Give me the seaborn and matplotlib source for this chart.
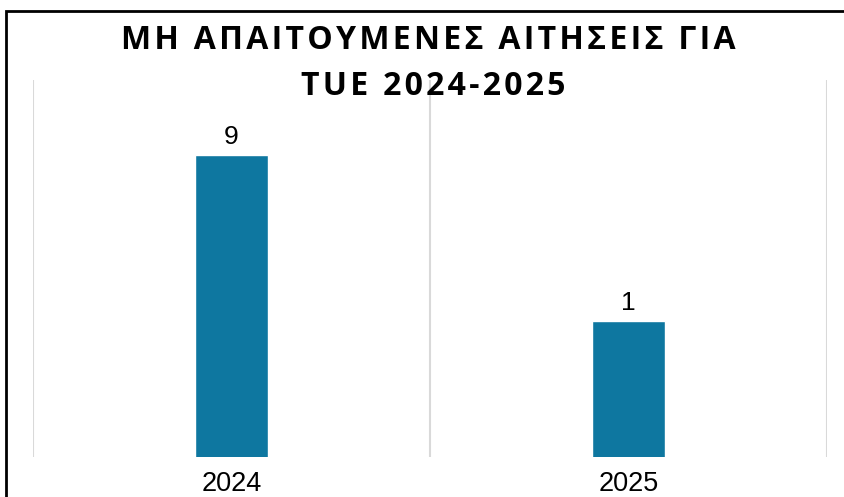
import matplotlib
matplotlib.use("Agg")
import matplotlib.pyplot as plt
import seaborn as sns
import pandas as pd
from matplotlib.patches import Rectangle

years = ["2024", "2025"]
counts = [9, 1]
title_lines = ["ΜΗ ΑΠΑΙΤΟΥΜΕΝΕΣ ΑΙΤΗΣΕΙΣ ΓΙΑ", "TUE 2024-2025"]

BAR_COLOR = "#0E77A0"
GRID_COLOR = "#D9D9D9"
W, H = 844, 497

sns.set_theme(style="white")
plt.rcParams["font.family"] = ["Liberation Sans", "DejaVu Sans"]
plt.rcParams["text.color"] = "black"
plt.rcParams["xtick.color"] = "black"


def spaced(s):
    # fake letter spacing with hair spaces
    return "\u200a".join(s)


df = pd.DataFrame({"year": years, "count": counts})

fig = plt.figure(figsize=(W / 100, H / 100), dpi=100)
ax = fig.add_axes([33 / W, 40 / H, 794 / W, 377 / H])

sns.barplot(data=df, x="year", y="count", color=BAR_COLOR, width=0.184,
            saturation=1, ax=ax)
ax.set_yscale("log")
ax.set_ylim(0.1652, 24.3)
ax.set_xlim(-0.5, 1.5)

# category separators as light vertical gridlines
ax.set_xticks([-0.5, 0.5, 1.5], minor=True)
ax.grid(which="minor", axis="x", color=GRID_COLOR, lw=1.5)
ax.grid(which="major", visible=False)
ax.tick_params(axis="x", which="both", length=0, labelsize=19.5, pad=10,
               labelcolor="black")
ax.tick_params(axis="y", which="both", left=False, labelleft=False)
for s in ax.spines.values():
    s.set_visible(False)
ax.set_xlabel("")
ax.set_ylabel("")

ax.bar_label(ax.containers[0], fontsize=19, padding=4, color="black")

# title, two lines
fam = ["Open Sans", "DejaVu Sans"]
fig.text(0.508, 1 - 49 / H, spaced(title_lines[0]), ha="center",
         va="baseline", fontsize=23, fontweight="bold", family=fam,
         color="black")
fig.text(0.513, 1 - 95 / H, spaced(title_lines[1]), ha="center",
         va="baseline", fontsize=23, fontweight="bold", family=fam,
         color="black")

# chart frame (cropped on right and bottom)
fig.add_artist(Rectangle((6 / W, -0.1), 1.2, 1.1 - 10.5 / H,
                         transform=fig.transFigure, fill=False, lw=2,
                         ec="black"))

fig.savefig("out.png", dpi=100)
